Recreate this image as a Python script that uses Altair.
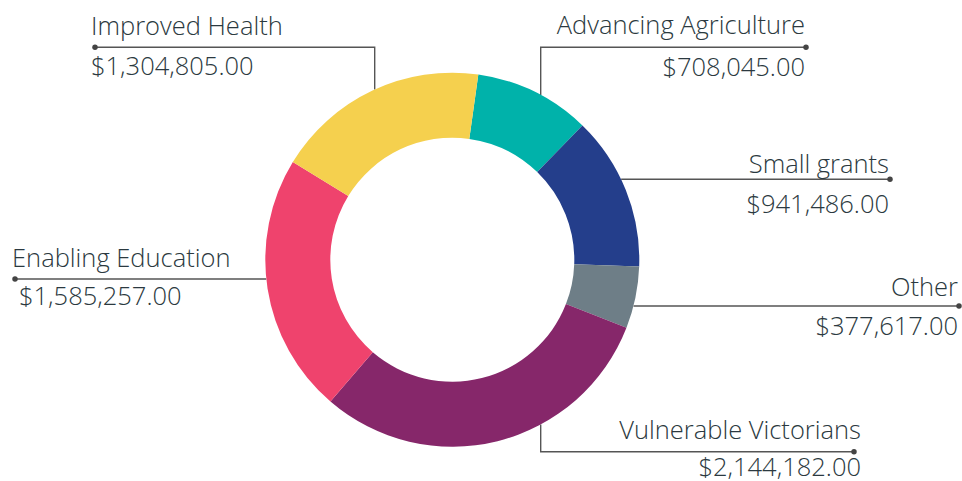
import math
import altair as alt
import pandas as pd

# ---- data ----
categories = ["Advancing Agriculture", "Small grants", "Other",
              "Vulnerable Victorians", "Enabling Education", "Improved Health"]
amounts = [708045, 941486, 377617, 2144182, 1585257, 1304805]
colors = ["#00B2AA", "#243E8B", "#6E7E87", "#86276A", "#EF436D", "#F5D04E"]

# ---- layout (pixels) ----
W, H = 962, 481
CX, CY, R_OUT, R_IN = 452.3, 259.7, 187, 122
START = math.radians(8)
FONT = "Open Sans"
FS = 25.5
TXT = "#2B3940"
LINE = "#555555"

# label placement: align, name x, name baseline, value x, value baseline,
# leader kind, leader level, elbow x (for vertical), dot x
layout = {
    "Improved Health":       ("left", 91, 35, 91, 75, "v", 47.3, 374.7, 95),
    "Advancing Agriculture": ("right", 805, 33.5, 805, 75.5, "v", 47.3, 540.7, 806),
    "Small grants":          ("right", 889, 173.3, 889, 213.3, "h", 179.3, None, 890),
    "Other":                 ("right", 958, 295.5, 958, 334.5, "h", 306, None, 959),
    "Enabling Education":    ("left", 12, 267, 19, 305, "h", 279, None, 15),
    "Vulnerable Victorians": ("right", 861, 439.3, 861, 476, "v", 451.7, 540.7, 854),
}

pie_df = pd.DataFrame({"category": categories, "amount": amounts,
                       "idx": list(range(len(categories)))})

text_rows, line_rows, dot_rows = [], [], []
for cat, amt in zip(categories, amounts):
    al, nx, ny, vx, vy, kind, ly, ex, dx = layout[cat]
    text_rows.append(dict(cat=cat, t=cat, x=nx, y=ny, align=al))
    text_rows.append(dict(cat=cat, t=f"${amt:,.2f}", x=vx, y=vy, align=al))
    dot_rows.append(dict(cat=cat, x=dx, y=ly))
    if kind == "h":
        off = math.sqrt(R_OUT ** 2 - (ly - CY) ** 2)
        ax = CX + off if dx > CX else CX - off
        pts = [(dx, ly), (ax, ly)]
    else:
        off = math.sqrt(R_OUT ** 2 - (ex - CX) ** 2)
        ay = CY - off if ly < CY else CY + off
        pts = [(dx, ly), (ex, ly), (ex, ay)]
    for i, (px, py) in enumerate(pts):
        line_rows.append(dict(cat=cat, o=i, x=px, y=py))

text_df = pd.DataFrame(text_rows)
line_df = pd.DataFrame(line_rows)
dot_df = pd.DataFrame(dot_rows)

xs = alt.Scale(domain=[0, W], nice=False, zero=False)
ys = alt.Scale(domain=[0, H], nice=False, zero=False, reverse=True)

lines = alt.Chart(line_df).mark_line(color=LINE, strokeWidth=1.4).encode(
    x=alt.X("x:Q", scale=xs, axis=None),
    y=alt.Y("y:Q", scale=ys, axis=None),
    detail="cat:N",
    order="o:Q",
)

dots = alt.Chart(dot_df).mark_circle(color="#444444", size=30, opacity=1).encode(
    x=alt.X("x:Q", scale=xs, axis=None),
    y=alt.Y("y:Q", scale=ys, axis=None),
)

arc = alt.Chart(pie_df).mark_arc(outerRadius=R_OUT, innerRadius=R_IN).encode(
    theta=alt.Theta("amount:Q", stack=True,
                    scale=alt.Scale(range=[START, START + 2 * math.pi])),
    color=alt.Color("category:N", scale=alt.Scale(domain=categories, range=colors),
                    legend=None),
    order=alt.Order("idx:Q"),
    x=alt.value(CX),
    y=alt.value(CY),
)


def text_layer(al):
    return alt.Chart(text_df).transform_filter(
        alt.datum.align == al
    ).mark_text(align=al, baseline="alphabetic", font=FONT, fontSize=FS,
                fontWeight=300, color=TXT).encode(
        x=alt.X("x:Q", scale=xs, axis=None),
        y=alt.Y("y:Q", scale=ys, axis=None),
        text="t:N",
    )


chart = alt.layer(lines, arc, dots, text_layer("left"), text_layer("right")).properties(
    width=W, height=H, autosize=alt.AutoSizeParams(type="none"), padding=0,
    background="white",
).configure_view(stroke=None)

chart.save("out.html", embed_options={"renderer": "svg", "actions": False})
